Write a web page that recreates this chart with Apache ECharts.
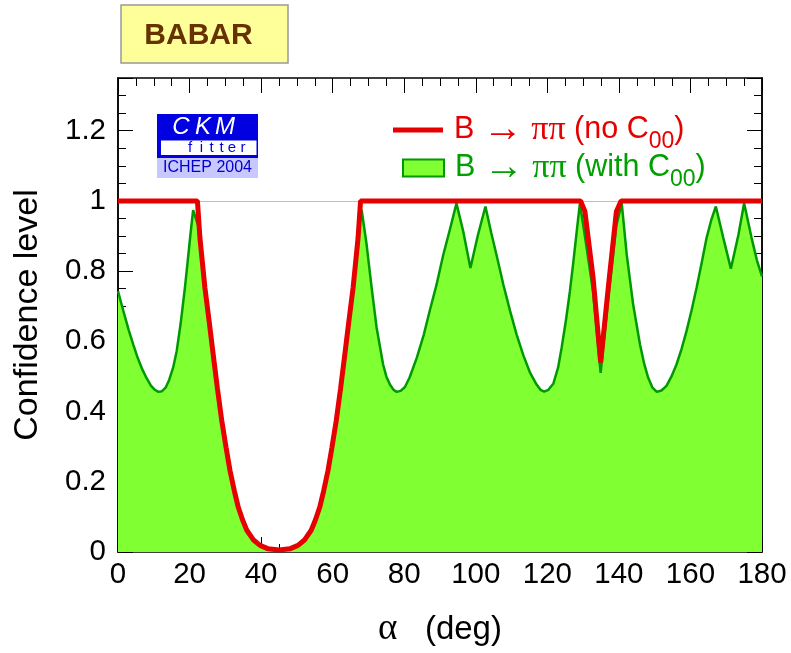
<!DOCTYPE html>
<html><head><meta charset="utf-8">
<script src="https://cdn.jsdelivr.net/npm/echarts@6/dist/echarts.min.js"></script>
<style>html,body{margin:0;padding:0;background:#fff}#c{width:791px;height:653px}</style>
</head><body><div id="c"></div>
<script>
// ---- data ----
const redAlpha = [0, 22.2, 22.9, 24.3, 25.5, 26.6, 27.8, 29.0, 30.2, 31.3, 32.5, 33.6, 34.8, 36.0, 37.8, 39.7, 42.0, 45.0, 48.0, 50.3, 52.2, 54.0, 55.2, 56.4, 57.5, 58.7, 59.8, 61.0, 62.2, 63.4, 64.5, 65.7, 67.1, 67.8, 129.3, 130.5, 132.8, 134.9, 137.1, 139.3, 140.6, 180];
const redCL = [1, 1, 0.894, 0.752, 0.655, 0.563, 0.465, 0.374, 0.298, 0.232, 0.175, 0.128, 0.092, 0.062, 0.035, 0.019, 0.009, 0.006, 0.009, 0.019, 0.035, 0.062, 0.092, 0.128, 0.175, 0.232, 0.298, 0.374, 0.465, 0.563, 0.655, 0.752, 0.894, 1, 1, 0.97, 0.78, 0.54, 0.76, 0.97, 1, 1];

const greenAlpha = [0,1,2,3,4.3,5.5,6.8,8,9.2,10.3,
  11.3,12.3,13.3,14.3,15.4,16.4,17.5,18.7,19.5,20.2,
  21.0,22.7,24.3,25.5,26.6,27.8,29.0,30.2,31.3,32.5,
  33.6,34.8,36.0,37.8,39.7,42.0,45.0,48.0,50.3,52.2,
  54.0,55.2,56.4,57.5,58.7,59.8,61.0,62.2,63.4,64.5,
  65.7,67.3,68.1,69.5,70.9,72.3,74.1,75.0,76.0,77.0,
  77.9,79.0,80.2,81.5,83.5,85.5,87.2,89.0,90.9,92.8,
  94.6,96.5,98.5,100.6,102.7,104.3,105.8,107.7,109.6,111.4,
  113.3,115.2,117.0,118.1,119.1,120.3,121.7,123.0,124.0,125.2,
  126.3,127.2,128.2,129.1,130.5,132.8,134.9,137.0,139.3,140.8,
  142.2,144.0,145.9,147.1,148.2,149.4,150.6,151.9,153.3,154.7,
  156.1,157.5,158.9,160.3,161.7,163.1,164.5,165.8,167.1,169.2,
  171.3,173.4,175.0,177.1,178.6,180];
const greenCL = [0.743,0.705,0.668,0.632,0.59,0.553,0.52,0.495,0.474,0.462,
  0.456,0.458,0.468,0.49,0.525,0.572,0.65,0.752,0.83,0.9,
  0.974,0.92,0.752,0.655,0.563,0.465,0.374,0.298,0.232,0.175,
  0.128,0.092,0.062,0.035,0.019,0.009,0.006,0.009,0.019,0.035,
  0.062,0.092,0.128,0.175,0.232,0.298,0.374,0.465,0.563,0.655,
  0.752,0.92,0.974,0.875,0.752,0.638,0.534,0.5,0.477,0.462,
  0.456,0.459,0.47,0.497,0.553,0.62,0.69,0.76,0.846,0.92,
  0.993,0.913,0.809,0.903,0.984,0.91,0.846,0.762,0.686,0.62,
  0.56,0.51,0.477,0.462,0.457,0.462,0.48,0.525,0.582,0.66,
  0.742,0.82,0.912,0.993,0.9,0.74,0.51,0.72,0.93,0.993,
  0.846,0.704,0.591,0.535,0.496,0.468,0.456,0.46,0.473,0.5,
  0.534,0.578,0.629,0.688,0.752,0.822,0.894,0.945,0.984,0.894,
  0.807,0.903,0.993,0.894,0.83,0.785];

const yTickLabels = [0, 0.2, 0.4, 0.6, 0.8, 1, 1.2];
const xTickLabels = [0, 20, 40, 60, 80, 100, 120, 140, 160, 180];

// ---- styling ----
const RED = '#e60000', GREEN_LINE = '#009a00', GREEN_FILL = '#80ff33', GREEN_TEXT = '#00a000';
const SANS = '"Liberation Sans", Arial, Helvetica, sans-serif';
const SERIF = '"Liberation Serif", "DejaVu Serif", serif';
const LBL = 29.5;

const pair = (xs, ys) => xs.map((x, i) => [x, ys[i]]);

const frameLine = {show: true, onZero: false, lineStyle: {color: '#000', width: 1.5}};
function xAx(pos, labels) {
  return {
    type: 'value', position: pos, min: 0, max: 180, interval: 20,
    axisLine: frameLine,
    axisTick: {show: true, inside: true, length: 15, lineStyle: {color: '#000', width: 1}},
    minorTick: {show: true, splitNumber: 4, length: 8, lineStyle: {color: '#000', width: 1}},
    splitLine: {show: false},
    axisLabel: labels ? {show: true, fontSize: LBL, fontFamily: SANS, color: '#000', margin: 8,
      formatter: v => xTickLabels.includes(Math.round(v)) ? String(Math.round(v)) : ''} : {show: false},
    name: labels ? '{g|α}{a|   (deg)}' : '',
    nameLocation: 'middle', nameGap: 59,
    nameTextStyle: {rich: {g: {fontFamily: SERIF, fontSize: 37, color: '#000'}, a: {fontFamily: SANS, fontSize: 33, color: '#000'}}}
  };
}
function yAx(pos, major, labels) {
  return {
    type: 'value', position: pos, min: 0, max: 1.35, interval: major ? 0.2 : 0.05,
    axisLine: frameLine,
    axisTick: {show: true, inside: true, length: major ? 15 : 8, lineStyle: {color: '#000', width: 1}},
    splitLine: {show: false},
    axisLabel: labels ? {show: true, fontSize: LBL, fontFamily: SANS, color: '#000', margin: 12,
      formatter: v => { const r = Math.round(v * 10) / 10; return (Math.abs(v - r) < 1e-6 && yTickLabels.includes(r)) ? String(r) : ''; }} : {show: false},
    name: labels ? 'Confidence level' : '',
    nameLocation: 'middle', nameGap: 73,
    nameTextStyle: {fontFamily: SANS, fontSize: 34, color: '#000'}
  };
}

function rich(col) {
  return {
    b: {fontFamily: SANS, fontSize: 30.5, color: col, padding: [0, 0, 0, 6]},
    a: {fontFamily: SANS, fontSize: 30.5, color: col},
    r: {fontFamily: SERIF, fontSize: 40, color: col},
    g: {fontFamily: SERIF, fontSize: 34, color: col},
    s: {fontFamily: SANS, fontSize: 23, color: col, padding: [24, 0, 0, 0]}
  };
}

const chart = echarts.init(document.getElementById('c'), null, {renderer: 'canvas'});
chart.setOption({
  animation: false,
  backgroundColor: '#fff',
  grid: {left: 118, top: 78, width: 644, height: 477, containLabel: false},
  xAxis: [xAx('bottom', true), xAx('top', false)],
  yAxis: [yAx('left', true, true), yAx('left', false, false), yAx('right', true, false), yAx('right', false, false)],
  legend: [
    {data: [{name: 'noC00', icon: 'rect', itemStyle: {color: RED}}],
     left: 393, top: 110, padding: 0, itemWidth: 50, itemHeight: 5, selectedMode: false,
     formatter: () => '{b|B }{r|→}{a| }{g|ππ}{a| (no C}{s|00}{a|)}',
     textStyle: {rich: rich(RED)}},
    {data: [{name: 'withC00', icon: 'rect', itemStyle: {color: GREEN_FILL, borderColor: GREEN_LINE, borderWidth: 2}}],
     left: 402, top: 148, padding: 0, itemWidth: 41, itemHeight: 17, selectedMode: false,
     formatter: () => '{b|B }{r|→}{a| }{g|ππ}{a| (with C}{s|00}{a|)}',
     textStyle: {rich: rich(GREEN_TEXT)}}
  ],
  graphic: [
    {type: 'rect', shape: {x: 121, y: 5, width: 167, height: 58}, style: {fill: '#ffff99', stroke: '#999', lineWidth: 1.5}},
    {type: 'text', x: 198.5, y: 36, style: {text: 'BABAR', font: 'bold 30px "Liberation Sans"', fill: '#663300', align: 'center', verticalAlign: 'middle'}},
    {type: 'rect', shape: {x: 157, y: 114, width: 101, height: 44}, style: {fill: '#0000e0'}},
    {type: 'rect', shape: {x: 161, y: 140.5, width: 95.5, height: 14.5}, style: {fill: '#fff'}},
    {type: 'rect', shape: {x: 157, y: 158, width: 101, height: 20}, style: {fill: '#c8c8ff'}},
    {type: 'text', x: 181, y: 127, style: {text: 'C', font: 'italic 24px "Liberation Sans"', fill: '#fff', align: 'center', verticalAlign: 'middle'}},
    {type: 'text', x: 203, y: 127, style: {text: 'K', font: 'italic 24px "Liberation Sans"', fill: '#fff', align: 'center', verticalAlign: 'middle'}},
    {type: 'text', x: 225, y: 127, style: {text: 'M', font: 'italic 24px "Liberation Sans"', fill: '#fff', align: 'center', verticalAlign: 'middle'}},
    {type: 'text', x: 190, y: 148, style: {text: 'f', font: '15px "Liberation Sans"', fill: '#0000e0', align: 'center', verticalAlign: 'middle'}},
    {type: 'text', x: 201.5, y: 148, style: {text: 'i', font: '15px "Liberation Sans"', fill: '#0000e0', align: 'center', verticalAlign: 'middle'}},
    {type: 'text', x: 211.5, y: 148, style: {text: 't', font: '15px "Liberation Sans"', fill: '#0000e0', align: 'center', verticalAlign: 'middle'}},
    {type: 'text', x: 221.5, y: 148, style: {text: 't', font: '15px "Liberation Sans"', fill: '#0000e0', align: 'center', verticalAlign: 'middle'}},
    {type: 'text', x: 232, y: 148, style: {text: 'e', font: '15px "Liberation Sans"', fill: '#0000e0', align: 'center', verticalAlign: 'middle'}},
    {type: 'text', x: 243, y: 148, style: {text: 'r', font: '15px "Liberation Sans"', fill: '#0000e0', align: 'center', verticalAlign: 'middle'}},
    {type: 'text', x: 207.5, y: 168, style: {text: 'ICHEP 2004', font: '16px "Liberation Sans"', fill: '#0000cc', align: 'center', verticalAlign: 'middle'}}
  ],
  series: [
    {name: 'withC00', type: 'line', data: pair(greenAlpha, greenCL), showSymbol: false, smooth: false,
     lineStyle: {color: GREEN_LINE, width: 2.5}, itemStyle: {color: GREEN_FILL},
     areaStyle: {color: GREEN_FILL, opacity: 1, origin: 'start'}, z: 2,
     markLine: {silent: true, symbol: 'none', label: {show: false}, animation: false, z: 1,
       lineStyle: {color: '#c0c0c0', width: 1, type: 'solid'}, data: [{yAxis: 1}]}},
    {name: 'noC00', type: 'line', data: pair(redAlpha, redCL), showSymbol: false, smooth: false, clip: false,
     lineStyle: {color: RED, width: 5}, itemStyle: {color: RED}, z: 3}
  ]
});
</script></body></html>
